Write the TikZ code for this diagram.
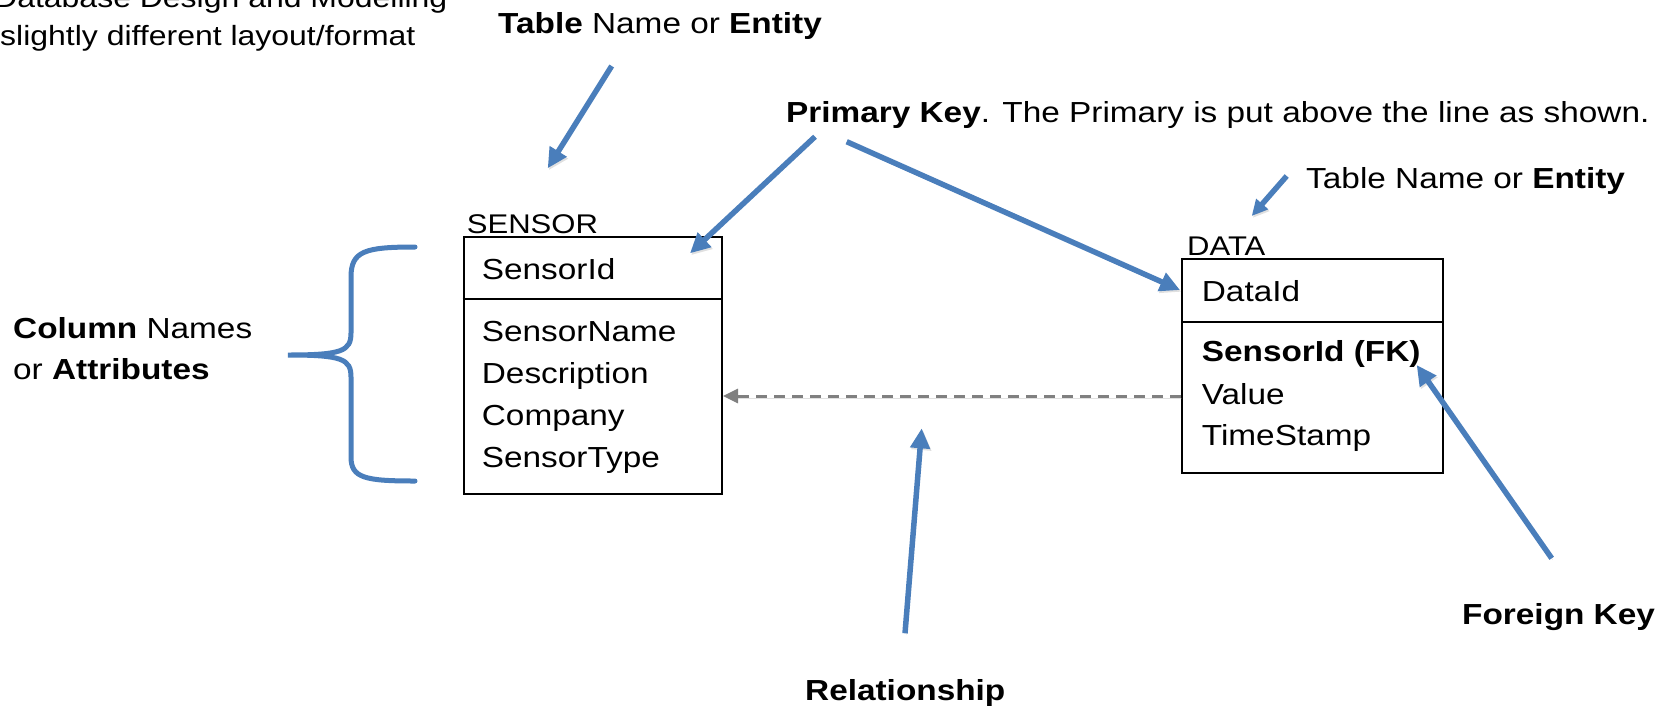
\documentclass[tikz,border=0pt]{standalone}
\usepackage{fontspec}
\setmainfont{Liberation Sans}[FakeStretch=1.15]
\usetikzlibrary{arrows.meta}
\definecolor{keyblue}{RGB}{74,126,187}
\definecolor{relgray}{RGB}{128,128,128}

\begin{document}
\begin{tikzpicture}[x=1pt,y=-1pt,
  note/.style={inner sep=0pt, anchor=base west, font=\fontsize{29}{34}\selectfont},
  smallnote/.style={inner sep=0pt, anchor=base west, font=\fontsize{27.8}{33}\selectfont},
  field/.style={inner sep=0pt, anchor=base west, font=\fontsize{29}{34}\selectfont},
  tabletitle/.style={inner sep=0pt, anchor=base west, font=\fontsize{27}{32}\selectfont},
  tablebox/.style={draw=black, line width=2pt, inner sep=0pt, anchor=north west},
  divider/.style={draw=black, line width=2pt},
  softshadow/.style={preaction={draw=black!40, opacity=0.3,
      transform canvas={shift={(1.2pt,-1.8pt)}}}},
  pointer/.style={draw=keyblue, line width=5.5pt, softshadow,
      -{Triangle[length=20pt,width=19pt]}},
  relation/.style={draw=relgray, line width=3pt, dash pattern=on 11pt off 7pt, softshadow,
      -{Triangle[length=15pt,width=14pt]}},
  bracket/.style={draw=keyblue, line width=5pt, line cap=round, softshadow}
]
\useasboundingbox (0,0) rectangle (1671,705);
\clip (0,0) rectangle (1671,705);

% captions
\node[smallnote] (caption1) at (-6,7) {Database Design and Modelling};
\node[smallnote] (caption2) at (0,45) {slightly different layout/format};
\node[note] (tablelabel) at (498,33) {\textbf{Table} Name or \textbf{Entity}};
\node[note] (pklabel) at (786,122) {\textbf{Primary Key}. The Primary is put above the line as shown.};
\node[note] (tablelabeltwo) at (1306,188) {Table Name or \textbf{Entity}};
\node[note] (collabel) at (13,338) {\textbf{Column} Names};
\node[note] (collabeltwo) at (13,379) {or \textbf{Attributes}};
\node[note] (fklabel) at (1462,624) {\textbf{Foreign Key}};
\node[note] (rellabel) at (805,700) {\textbf{Relationship}};

% SENSOR table
\node[tablebox, minimum width=258.3pt, minimum height=257.6pt] (sensor) at (462.7,235.7) {};
\draw[divider] ([yshift=-63.6pt]sensor.north west) -- ([yshift=-63.6pt]sensor.north east);
\node[tabletitle] (sensortitle) at (466.7,233) {SENSOR};
\node[field] (sensorid) at (481.7,279.3) {SensorId};
\node[field] (sensorname) at (481.7,341.7) {SensorName};
\node[field] (description) at (481.7,383.7) {Description};
\node[field] (company) at (481.7,425.5) {Company};
\node[field] (sensortype) at (481.7,467.5) {SensorType};

% DATA table
\node[tablebox, minimum width=260.5pt, minimum height=213.4pt] (data) at (1181,258.3) {};
\draw[divider] ([yshift=-63.4pt]data.north west) -- ([yshift=-63.4pt]data.north east);
\node[tabletitle] (datatitle) at (1187,255.5) {DATA};
\node[field] (dataid) at (1201.7,301.7) {DataId};
\node[field] (fkfield) at (1201.7,361.7) {\textbf{SensorId (FK)}};
\node[field] (value) at (1201.7,404) {Value};
\node[field] (timestamp) at (1201.7,445) {TimeStamp};

% relationship between the tables
\coordinate (relrow) at (0,396);
\draw[relation] (data.west |- relrow) -- (sensor.east |- relrow);

% brace grouping the columns
\coordinate (bracetop) at (415,247);
\coordinate (bracetip) at (288,355);
\coordinate (bracebottom) at (415,481);
\draw[bracket] (bracetop) .. controls (365,247) and (351,251) .. (351,277)
  -- (351,333) .. controls (351,351) and (342,355) .. (bracetip)
  .. controls (342,355) and (351,359) .. (351,377)
  -- (351,457) .. controls (351,478) and (365,481) .. (bracebottom);

% pointers from the captions
\coordinate (tnstart) at (611.7,66);
\coordinate (tntip) at (547.7,168.3);
\coordinate (pkstartone) at (815,136.7);
\coordinate (pktipone) at (690,253.3);
\coordinate (pkstarttwo) at (846.7,141.7);
\coordinate (pktiptwo) at (1180,290);
\coordinate (tnstarttwo) at (1286.7,176);
\coordinate (tntiptwo) at (1251.7,216);
\coordinate (fkstart) at (1551.7,558.3);
\coordinate (fktip) at (1416.7,365);
\coordinate (relstart) at (905,633.3);
\coordinate (reltip) at (921.7,428.3);

\draw[pointer] (tnstart) -- (tntip);
\draw[pointer] (pkstartone) -- (pktipone);
\draw[pointer] (pkstarttwo) -- (pktiptwo);
\draw[pointer, -{Triangle[length=16pt,width=15pt]}] (tnstarttwo) -- (tntiptwo);
\draw[pointer] (fkstart) -- (fktip);
\draw[pointer] (relstart) -- (reltip);
\end{tikzpicture}
\end{document}
